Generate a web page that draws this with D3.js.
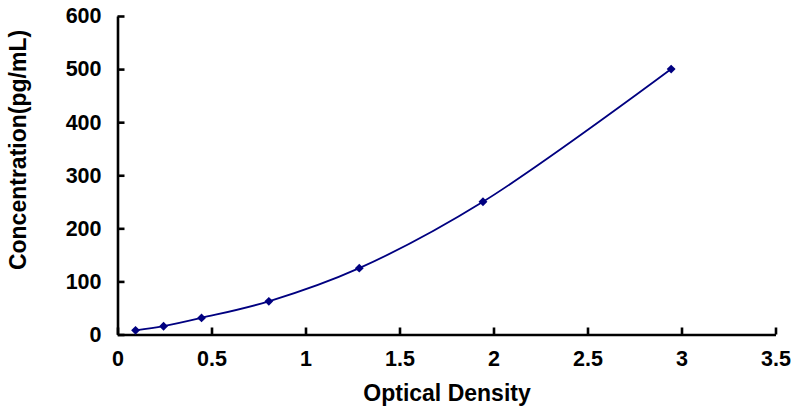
<!DOCTYPE html>
<html>
<head>
<meta charset="utf-8">
<script src="https://cdn.jsdelivr.net/npm/d3@7"></script>
<style>
  body { margin: 0; background: #fff; }
  text { font-family: "Liberation Sans", Arial, sans-serif; font-weight: bold; }
</style>
</head>
<body>
<svg width="801" height="408"></svg>
<script>
  // standard curve readings
  var od = [0.096, 0.245, 0.447, 0.805, 1.286, 1.944, 2.945];
  var conc = [7.8, 15.6, 31.25, 62.5, 125, 250, 500];
  var xTicks = [0, 0.5, 1, 1.5, 2, 2.5, 3, 3.5];
  var yTicks = [0, 100, 200, 300, 400, 500, 600];

  var svg = d3.select("svg");
  var x = d3.scaleLinear().domain([0, 3.5]).range([117.5, 775.5]);
  var y = d3.scaleLinear().domain([0, 600]).range([334.5, 16]);

  var pts = od.map(function(d, i) { return [d, conc[i]]; });

  // axes
  var xAxis = svg.append("g")
      .attr("transform", "translate(0," + y(0) + ")")
      .call(d3.axisBottom(x).tickValues(xTicks).tickSizeInner(-7).tickSizeOuter(0)
        .tickFormat(function(d) { return d; }));
  xAxis.selectAll("text").attr("dy", null).attr("y", 31.5).style("font-size", "21.5px");

  var yAxis = svg.append("g")
      .attr("transform", "translate(" + x(0) + ",0)")
      .call(d3.axisLeft(y).tickValues(yTicks).tickSizeInner(-7).tickSizeOuter(0));
  yAxis.selectAll("text").attr("x", -16).style("font-size", "21.5px");

  svg.selectAll(".domain, .tick line").attr("stroke", "#000").attr("stroke-width", 2.6);
  svg.selectAll(".tick text").attr("fill", "#000").style("font-family", "Liberation Sans, Arial, sans-serif");

  // curve
  svg.append("path")
      .datum(pts)
      .attr("fill", "none")
      .attr("stroke", "#000080")
      .attr("stroke-width", 1.8)
      .attr("d", d3.line()
        .x(function(d) { return x(d[0]); })
        .y(function(d) { return y(d[1]); })
        .curve(d3.curveCatmullRom));

  svg.selectAll("path.pt")
      .data(pts)
      .enter().append("path")
      .attr("class", "pt")
      .attr("d", d3.symbol().type(d3.symbolDiamond2).size(50))
      .attr("transform", function(d) { return "translate(" + x(d[0]) + "," + y(d[1]) + ")"; })
      .attr("fill", "#000080");

  // titles
  svg.append("text")
      .attr("x", 447).attr("y", 401)
      .attr("text-anchor", "middle")
      .style("font-size", "23px")
      .text("Optical Density");

  svg.append("text")
      .attr("transform", "translate(26,150) rotate(-90)")
      .attr("text-anchor", "middle")
      .style("font-size", "23px")
      .text("Concentration(pg/mL)");
</script>
</body>
</html>
